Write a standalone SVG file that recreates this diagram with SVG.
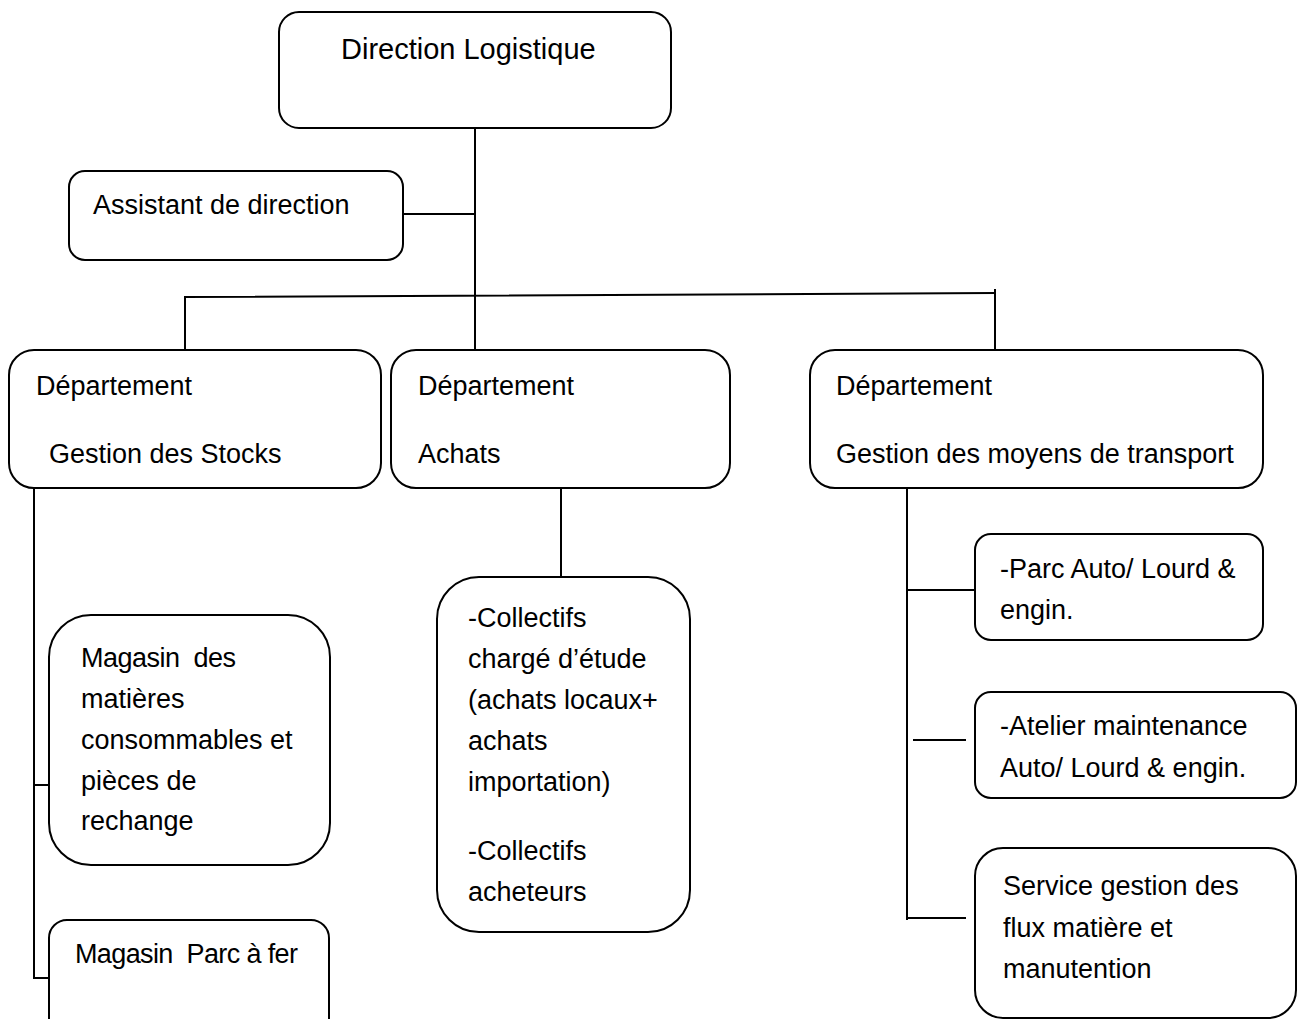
<svg xmlns="http://www.w3.org/2000/svg" width="1297" height="1019" viewBox="0 0 1297 1019">
<style>
.box{fill:#fff;stroke:#000;stroke-width:2}
.ln{stroke:#000;stroke-width:2;fill:none}
text{font-family:"Liberation Sans",Arial,sans-serif;font-size:27px;fill:#000}
</style>
<rect width="1297" height="1019" fill="#fff"/>
<g id="connectors">
<line class="ln" x1="475" y1="128" x2="475" y2="350"/>
<line class="ln" x1="403" y1="214" x2="475" y2="214"/>
<polyline class="ln" points="185,350 185,297 995,293"/>
<line class="ln" x1="995" y1="289" x2="995" y2="350"/>
<polyline class="ln" points="34,488 34,978 49,978"/>
<line class="ln" x1="34" y1="785" x2="49" y2="785"/>
<line class="ln" x1="561" y1="488" x2="561" y2="577"/>
<line class="ln" x1="907" y1="488" x2="907" y2="920"/>
<line class="ln" x1="907" y1="590" x2="975" y2="590"/>
<line class="ln" x1="913" y1="740" x2="966" y2="740"/>
<line class="ln" x1="907" y1="918" x2="966" y2="918"/>
</g>
<g id="direction">
<rect class="box" x="279" y="12" width="392" height="116" rx="20"/>
<text x="341" y="59" style="font-size:29px">Direction Logistique</text>
</g>
<g id="assistant">
<rect class="box" x="69" y="171" width="334" height="89" rx="16"/>
<text x="93" y="214">Assistant de direction</text>
</g>
<g id="dep-stocks">
<rect class="box" x="9" y="350" width="372" height="138" rx="25"/>
<text x="36" y="395">Département</text>
<text x="49" y="463">Gestion des Stocks</text>
</g>
<g id="dep-achats">
<rect class="box" x="391" y="350" width="339" height="138" rx="25"/>
<text x="418" y="395">Département</text>
<text x="418" y="463">Achats</text>
</g>
<g id="dep-transport">
<rect class="box" x="810" y="350" width="453" height="138" rx="25"/>
<text x="836" y="395">Département</text>
<text x="836" y="463">Gestion des moyens de transport</text>
</g>
<g id="magasin-mc">
<rect class="box" x="49" y="615" width="281" height="250" rx="42"/>
<text x="81" y="667" xml:space="preserve" textLength="155">Magasin  des</text>
<text x="81" y="708">matières</text>
<text x="81" y="749">consommables et</text>
<text x="81" y="790">pièces de</text>
<text x="81" y="830">rechange</text>
</g>
<g id="magasin-fer">
<rect class="box" x="49" y="920" width="280" height="120" rx="18"/>
<text x="75" y="963" xml:space="preserve" textLength="223">Magasin  Parc à fer</text>
</g>
<g id="collectifs">
<rect class="box" x="437" y="577" width="253" height="355" rx="42"/>
<text x="468" y="627">-Collectifs</text>
<text x="468" y="668">chargé d’étude</text>
<text x="468" y="709">(achats locaux+</text>
<text x="468" y="750">achats</text>
<text x="468" y="791">importation)</text>
<text x="468" y="860">-Collectifs</text>
<text x="468" y="901">acheteurs</text>
</g>
<g id="parc-auto">
<rect class="box" x="975" y="534" width="288" height="106" rx="16"/>
<text x="1000" y="578">-Parc Auto/ Lourd &amp;</text>
<text x="1000" y="619">engin.</text>
</g>
<g id="atelier">
<rect class="box" x="975" y="692" width="321" height="106" rx="16"/>
<text x="1000" y="735">-Atelier maintenance</text>
<text x="1000" y="777">Auto/ Lourd &amp; engin.</text>
</g>
<g id="service-flux">
<rect class="box" x="975" y="848" width="321" height="170" rx="28"/>
<text x="1003" y="895">Service gestion des</text>
<text x="1003" y="937">flux matière et</text>
<text x="1003" y="978">manutention</text>
</g>
</svg>
